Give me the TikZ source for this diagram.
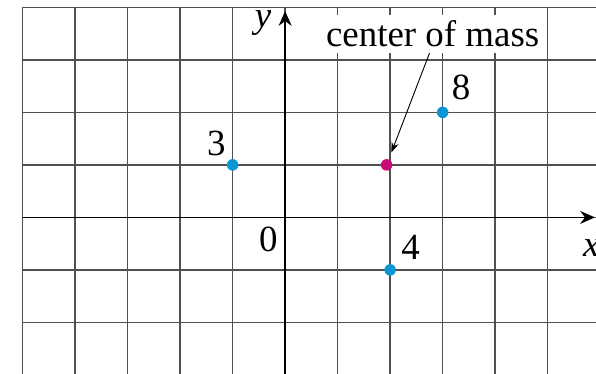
\documentclass[tikz,border=0pt]{standalone}
\usepackage{fontspec}
\setmainfont{Liberation Serif}
\definecolor{massblue}{RGB}{10, 150, 210}
\definecolor{massred}{RGB}{200, 10, 120}
\definecolor{gridgray}{RGB}{80, 80, 80}
\usetikzlibrary{arrows.meta, positioning}

\begin{document}
\begin{tikzpicture}[font=\fontsize{20}{24}\selectfont,
		pointmass/.style={circle, fill=massblue, inner sep=0pt, minimum size=0.22cm},
		masslabel/.style={inner sep=0pt}]
			\useasboundingbox (-5.43,-2.97) rectangle (5.92,4.14);
			\clip (-5.43,-2.97) rectangle (5.92,4.14);
			
			\foreach \x in {-5,...,5}
				\draw[color=gridgray, line width=0.75pt] (\x,-3) -- (\x,4);
			\foreach \y in {-2,...,4}
				\draw[color=gridgray, line width=0.75pt] (-5,\y) -- (6,\y);
			
			\draw[line width=0.8pt, -{Stealth[length=8pt, width=7pt]}] (0,-3) -- (0,3.93);
			\draw[line width=0.8pt, -{Stealth[length=8pt, width=7pt]}] (-5,0) -- (5.9,0);
			\node[masslabel] (ylabel) at (-0.42,3.70) {\textit{y}};
			\node[masslabel] (xlabel) at (5.83,-0.59) {\textit{x}};
			\node[masslabel] (origin) at (-0.32,-0.42) {0};
			
			\node[pointmass] (m3) at (-1,1) {};
			\node[pointmass] (m8) at (3,2) {};
			\node[pointmass] (m4) at (2,-1) {};
			\node[pointmass, fill=massred] (cm) at (1.933,1) {};
			
			\node[masslabel] (l3) at (-1.31,1.41) {3};
			\node[masslabel] (l8) at (3.35,2.48) {8};
			\node[masslabel] (l4) at (2.39,-0.58) {4};
			
			\node[fill=white, inner sep=3pt, anchor=base] (cmlabel) at (2.81,3.25) {center of mass};
			\draw[line width=0.5pt, -{Stealth[length=5.5pt, width=4pt]}, shorten >=3.9pt]
				([xshift=-0.06cm]cmlabel.south) -- (cm);
		\end{tikzpicture}
\end{document}
